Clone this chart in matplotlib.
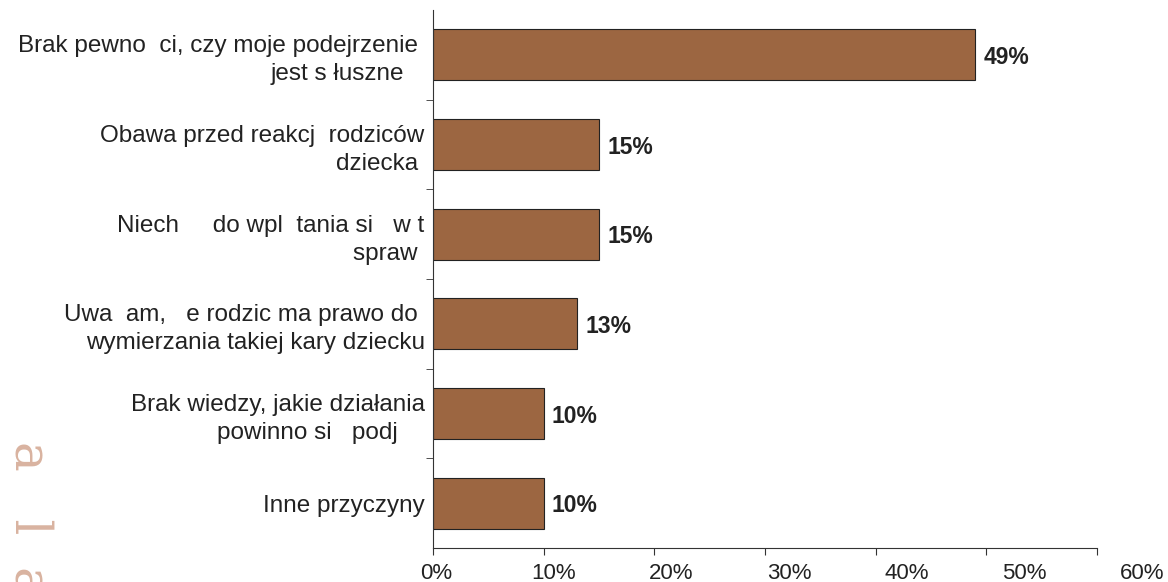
import numpy as np
import matplotlib.pyplot as plt
from matplotlib.ticker import FixedLocator
import matplotlib.transforms as mtransforms

# dane (kolejność od góry)
kategorie = [
    "Brak pewno  ci, czy moje podejrzenie \njest s łuszne   ",
    "Obawa przed reakcj  rodziców\ndziecka ",
    "Niech     do wpl  tania si   w t\nspraw ",
    "Uwa  am,   e rodzic ma prawo do \nwymierzania takiej kary dziecku",
    "Brak wiedzy, jakie działania\npowinno si   podj    ",
    "Inne przyczyny",
]
wartosci = [49, 15, 15, 13, 10, 10]
ticki_x = [0, 10, 20, 30, 40, 50, 60]
etykiety_x = ["0%", "10%", "20%", "30%", "40%", "50%", "60%"]

plt.rcParams['font.family'] = ['Liberation Sans', 'DejaVu Sans']
kolor_tekstu = '#222222'

fig = plt.figure(figsize=(11.68, 5.82), dpi=100)
ax = fig.add_axes([0.3707, 0.0584, 0.5685, 0.9246])

y = np.arange(len(kategorie))
ax.barh(y, wartosci, height=0.57, color='#9c6641', edgecolor='#222222', linewidth=0.8)

for yi, v in zip(y, wartosci):
    ax.annotate(f"{v}%", (v, yi), xytext=(6, -2), textcoords='offset points',
                va='center', ha='left', fontsize=16.5, fontweight='bold',
                color=kolor_tekstu)

ax.set_xlim(0, 60)
ax.set_ylim(len(kategorie) - 0.5, -0.5)

# os X: kreski na wartosciach, etykiety lekko "rozjechane" jak w oryginale
ax.set_xticks(ticki_x)
ax.set_xticklabels([])
tr = mtransforms.blended_transform_factory(ax.transData, ax.transAxes)
for t, lab in zip(ticki_x, etykiety_x):
    ax.text(0.27 + 1.063 * t, -0.028, lab, transform=tr, ha='center', va='top',
            fontsize=16, color=kolor_tekstu, clip_on=False)

ax.set_yticks(y)
ax.set_yticklabels(kategorie, fontsize=17.5, color=kolor_tekstu,
                   multialignment='right', linespacing=1.35)
ax.tick_params(axis='y', length=0, pad=6)
ax.yaxis.set_minor_locator(FixedLocator(np.arange(0.5, len(kategorie) - 1, 1)))
ax.tick_params(axis='y', which='minor', length=5, color='#333333')
ax.tick_params(axis='x', length=5, color='#333333')

for s in ['top', 'right']:
    ax.spines[s].set_visible(False)
ax.spines['left'].set_color('#333333')
ax.spines['bottom'].set_color('#333333')

# znak wodny w lewym dolnym rogu (ucięty przy dolnej krawędzi jak w oryginale)
fig.text(0.004, 0.243, "a   l  a", rotation=270, fontsize=36, family='DejaVu Serif',
         color='#d9b3a0', va='top', ha='left')

fig.savefig("out.png", dpi=100)
